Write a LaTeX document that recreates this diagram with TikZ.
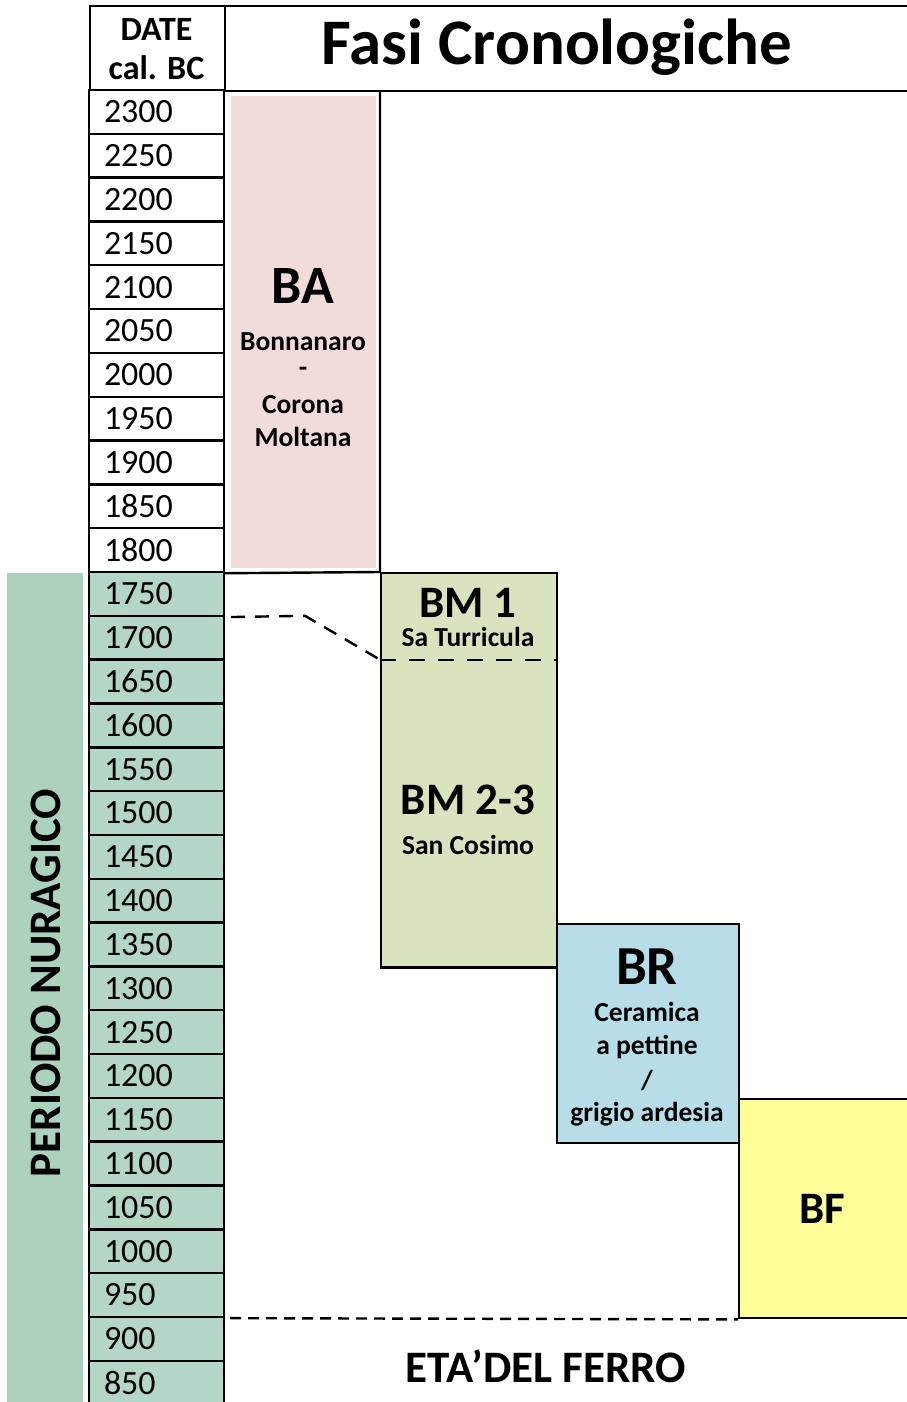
\documentclass[tikz,border=0pt]{standalone}
\usepackage{fontspec}
\setmainfont{Carlito}
\definecolor{nurag}{RGB}{172,210,190}
\definecolor{cellg}{RGB}{180,215,197}
\definecolor{bapink}{RGB}{242,220,219}
\definecolor{bmgreen}{RGB}{215,228,189}
\definecolor{brblue}{RGB}{183,222,232}
\definecolor{bfyellow}{RGB}{255,255,153}
\tikzset{
  frame/.style={draw=black, line width=2.4pt},
  dashline/.style={draw=black, line width=2.4pt, dash pattern=on 14pt off 10pt},
  datecell/.style={frame, rectangle, minimum width=135pt, minimum height=43.82pt,
     text width=105pt, inner xsep=15pt, inner ysep=0pt, align=left,
     font=\fontsize{34}{34}\selectfont},
  box/.style={frame, rectangle, inner sep=0pt, anchor=north west},
  big/.style={inner sep=0pt, font=\bfseries\fontsize{#1}{#1}\selectfont},
  small/.style={inner sep=0pt, font=\bfseries\fontsize{27.5}{27.5}\selectfont},
}
\begin{document}
\begin{tikzpicture}[x=1pt,y=-1pt]
\useasboundingbox (0,0) rectangle (907,1402);
\clip (0,0) rectangle (907,1402);
\fill[white] (0,0) rectangle (907,1402);
% left band
\node[fill=nurag, inner sep=0pt, minimum width=76pt, minimum height=840pt, anchor=north west] (band) at (7,573) {};
\node[big=45, rotate=90] (nurtxt) at (46,983) {PERIODO NURAGICO};
% header
\node[box, minimum width=135pt, minimum height=85pt] (datehdr) at (89,5) {};
\node[big=34, align=center] (datetxt) at (156.5,29) {DATE};
\node[big=34, align=center] (caltxt) at (156.5,68) {cal. BC};
\node[box, minimum width=690pt, minimum height=85pt] (titlebox) at (224,5) {};
\node[big=65] (title) at (557,47) {Fasi Cronologiche};
% date rows
\foreach \d [count=\i from 0] in {2300,2250,...,1800}
  \node[datecell, fill=white] (d\d) at (156.5,{90+(\i+0.5)*43.82}) {\d};
\foreach \d [count=\i from 11] in {1750,1700,...,850}
  \node[datecell, fill=cellg] (d\d) at (156.5,{90+(\i+0.5)*43.82}) {\d};
% BA area
\coordinate (bacorner) at (380,572.0);
\draw[frame] (380,90) -- (bacorner) -- (d1800.south east);
\node[fill=bapink, inner sep=0pt, minimum width=145pt, minimum height=472pt, anchor=north west] (ba) at (231,96) {};
\node[big=54] (batxt) at (303,286) {BA};
\node[small] (ba1) at (303,342) {Bonnanaro};
\node[small] (ba2) at (303,372) {-};
\node[small] (ba3) at (303,405) {Corona};
\node[small] (ba4) at (303,437) {Moltana};
% BM
\node[box, fill=bmgreen, minimum width=176pt, minimum height=394.4pt] (bm) at (380,572) {};
\coordinate (bmdivw) at (380,659.7);
\coordinate (bmdive) at (556,659.7);
\draw[dashline, dash pattern=on 16pt off 13pt] (bmdivw) -- (bmdive);
\node[big=45] (bm1) at (468,603) {BM 1};
\node[small] (bm1s) at (468,637) {Sa Turricula};
\node[big=45] (bm23) at (468,800) {BM 2-3};
\node[small] (bm23s) at (468,845) {San Cosimo};
% dashed connector
\coordinate (dk) at (305,615.8);
\draw[dashline] ([xshift=6pt]d1750.south east) -- (dk) -- (bmdivw);
% BR
\node[box, fill=brblue, minimum width=182pt, minimum height=219.1pt] (br) at (556,922.6) {};
\node[big=55] (brtxt) at (647,967) {BR};
\node[small] (br1) at (647,1012) {Ceramica};
\node[small] (br2) at (647,1047) {a pettine};
\node[small] (br3) at (647,1080) {/};
\node[small] (br4) at (647,1114) {grigio ardesia};
% BF
\node[box, fill=bfyellow, minimum width=190pt, minimum height=219.1pt] (bf) at (738,1097.9) {};
\node[big=45] (bftxt) at (822,1209) {BF};
% iron age
\draw[dashline, dash pattern=on 11pt off 7pt] ([xshift=5pt]d950.south east) -- (bf.south west);
\node[big=45] (ferro) at (546,1366) {ETA’DEL FERRO};
\end{tikzpicture}
\end{document}
